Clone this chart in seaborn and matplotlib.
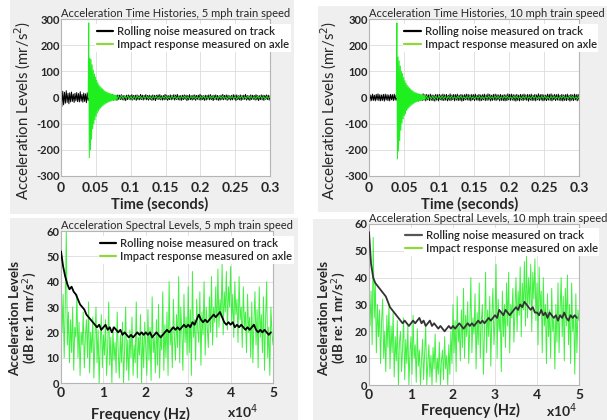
import numpy as np
import matplotlib
matplotlib.use("Agg")
import matplotlib.pyplot as plt
from matplotlib.patches import Rectangle
from matplotlib.lines import Line2D
import seaborn as sns

# ---------------- data ----------------
time_ticks = [0, 0.05, 0.1, 0.15, 0.2, 0.25, 0.3]
time_tick_labels = ["0", "0.05", "0.1", "0.15", "0.2", "0.25", "0.3"]
freq_ticks = [0, 10000, 20000, 30000, 40000, 50000]
freq_tick_labels = ["0", "1", "2", "3", "4", "5"]

# rolling noise measured on track, 5 mph (mr/s^2), sampled uniformly over 0..0.3 s
rolling_5 = [30,-34,24,-28,20,-22,26,-19,16,-24,18,-17,21,-15,13,-19,16,-13,19,-16,15,-17,22,-14,
 12,-18,17,-15,14,-20,18,-12,16,-15,13,-17,19,-14,12,-16,15,-13,14,-15,
 -10,8,-9,11,-7,9,-12,8,-8,10,-9,7,-11,9,-8,12,-10,7,-9,8,-11,10,-7,9,-8,11,-9,8,-10,7,
 -12,9,-8,10,-7,8,-9,11,-10,8,-7,9,-11,10,-8,7,-9,12,-8,9,-10,8,-7,11,-9,8,-10,9,-8,7,
 -11,10,-9,8,-12,9,-7,10,-8,11,-9,7,-10,8,-9,12,-8,9,-11,7,-8,10,-9,8,-7,11,-10,9,-8,12,
 -9,7,-10,8,-11,9,-8,10,-7,9,-12,8,-9,11,-8,7,-10,9,-8,10,-11,8,-7,9,-9,12,-10,8,-8,7,
 -11,9,-10,8,-7,10,-9,11,-8,7,-12,9,-8,10,-9,8,-11,7,-10,9,-8,12,-9,8,-7,10,-11,9,-8,7,
 -10,8,-9,11,-7,9,-12,10,-8,7,-9,10,-11,8,-8,9,-7,12,-10,8,-9,7,-11,10,-8,9,-7,8,-10,11,
 -9,8,-12,7,-8,10,-9,9,-11,8,-7,10,-8,9,-10,7]
# impact response measured on axle, 5 mph: impact window 0.039..0.08 s, tail 0.08..0.3 s
impact_5_burst = [0,285,-230,150,-200,145,-160,125,-120,105,-100,90,-85,78,-72,66,-60,56,-52,48,
 -45,42,-40,37,-35,33,-31,29,-27,25,-24,22,-21,20,-19,18,-17,16,-15,14,-14,13,-12,12,-11,10,-10,9,-9,8]
impact_5_tail = [-7,6,-6,7,-5,5,-4,6,-5,4,-6,5,-4,5,-3,4,-5,4,-3,5,-4,3,-5,4,-3,4,-4,3,-5,4,
 -3,5,-4,3,-4,5,-3,4,-5,3,-4,4,-3,5,-4,3,-5,4,-3,4,-4,3,-5,4,-3,5,-4,3,-4,5,-3,4,-5,3,-4,4,
 -3,5,-4,3,-5,4,-3,4,-4,3,-5,4,-3,5,-4,3,-4,5,-3,4,-5,3,-4,4,-3,5,-4,3,-5,4,-3,4]

rolling_10 = [12,-14,10,-12,13,-11,9,-13,12,-10,14,-12,11,-13,10,-11,12,-14,13,-10,11,-12,10,-13,
 12,-9,11,-12,13,-10,9,-11,12,-13,10,-12,11,-9,13,-12,10,-11,14,-10,12,-13,9,-11,12,-10,13,-12,
 11,-9,10,-13,12,-11,9,-12,14,-10,11,-13,12,-9,10,-12,13,-11,10,-12,9,-14,12,-10,11,-13,12,-9,
 10,-11,13,-12,11,-10,12,-13,9,-11,14,-12,10,-9,12,-13,11,-10,13,-12,9,-11,12,-14,10,-12,11,-9,
 13,-10,12,-11,10,-13,12,-9,11,-12,13,-10,9,-11,12,-13,10,-12,11,-9,13,-12,10,-11,14,-10,12,-13,
 9,-11,12,-10,13,-12,11,-9,10,-13,12,-11,9,-12,11,-13,10,-12,14,-9,12,-11,13,-10,11,-12,
 10,-14,12,-11,9,-13,12,-10,11,-12,13,-9,10,-11,12,-14,11,-10,13,-12,9,-11,12,-13,10,-9,
 14,-12,11,-10,12,-13,10,-11,9,-12,13,-10,12,-11,14,-13,10,-9,12,-12,11,-10,13,-11,9,-12,
 12,-13,10,-11,11,-12,13,-10,9,-14,12,-11,10,-12,13,-9,11,-13,12,-10]
impact_10_burst = [0,285,-235,155,-205,140,-165,120,-125,100,-98,92,-82,76,-70,64,-62,55,-50,47,
 -44,41,-39,36,-34,32,-30,28,-26,25,-23,21,-20,19,-18,17,-16,15,-15,14,-13,12,-12,11,-10,10,-9,9,-8,8]
impact_10_tail = [-7,6,-7,6,-5,5,-6,5,-5,6,-4,5,-4,5,-5,4,-4,5,-4,3,-5,4,-3,5,-4,3,-4,4,-3,5,
 -4,3,-5,4,-3,4,-4,3,-5,4,-3,5,-4,3,-4,5,-3,4,-5,3,-4,4,-3,5,-4,3,-5,4,-3,4,-4,3,-5,4,-3,5,
 -4,3,-4,5,-3,4,-5,3,-4,4,-3,5,-4,3,-5,4,-3,4,-4,3,-5,4,-3,5,-4,3,-4,5,-3,4,-5,3,-4,4]

# spectra (dB re 1 mr/s^2), rolling noise sampled every 500 Hz from 0 to 49500 Hz
spec_roll_5 = [52,46,42,39,37,38,36,35,33,31,30,29,27,26,25,24,23,22,23,21,22,
 23,21,22,20,22,21,20,21,19,20,19,18,19,18,19,20,19,20,19,
 20,19,20,18,19,20,19,18,19,20,21,20,21,22,21,22,21,22,23,22,
 23,22,24,23,25,27,25,24,25,24,25,26,27,26,27,28,26,24,23,24,
 23,24,22,23,22,23,22,21,22,21,22,23,21,20,21,20,21,20,19,20]
spec_roll_10 = [57,45,40,38,37,36,35,34,33,31,29,28,27,26,25,24,23,24,23,22,23,
 24,23,24,25,23,24,22,23,24,22,23,22,21,22,21,20,21,22,21,
 22,21,22,23,22,21,22,23,22,23,22,23,24,23,24,23,24,25,24,25,
 26,25,28,27,26,28,27,26,27,28,29,28,30,29,31,30,29,28,29,27,
 27,26,28,26,27,25,27,26,25,26,24,26,25,27,25,24,26,25,26,25]
# impact response spectra sampled every 250 Hz from 0 to 50000 Hz
spec_imp_5 = [45,20,35,10,30,60,15,28,8,25, 12,30,5,22,18,35,10,24,3,20,
 15,28,6,18,25,10,32,4,20,12, 26,2,17,30,8,21,0,15,27,6,
 19,11,25,3,14,32,7,18,0,22, 9,16,4,28,12,2,19,8,24,0,
 13,30,5,17,1,21,10,26,3,15, 8,32,2,18,11,27,0,20,6,24,
 14,3,29,9,22,1,34,12,18,4, 25,7,31,2,19,13,36,5,23,10,
 28,3,40,15,22,6,33,18,9,27, 14,42,8,30,20,5,35,16,26,11,
 38,12,29,3,44,18,25,9,33,21, 16,36,7,28,19,40,11,30,22,14,
 34,20,42,15,30,24,38,18,45,22, 33,26,47,19,36,28,44,21,38,30,
 46,24,35,18,40,27,33,16,42,25, 30,14,38,22,28,12,35,20,26,10,
 32,8,24,36,15,29,6,38,18,27, 12,34,5,25,40,10,22,3,30,20,15]
spec_imp_10 = [40,22,35,15,55,25,38,12,30,18, 28,8,24,32,10,20,5,26,14,30,
 6,22,12,27,3,18,9,24,0,16, 20,5,14,25,2,17,8,22,0,12,
 18,4,26,10,15,1,21,7,13,0, 9,17,2,12,22,0,8,15,3,11,
 0,14,6,19,1,10,4,16,0,9, 13,2,18,6,11,0,15,4,20,8,
 30,12,24,5,33,16,22,9,28,14, 36,10,26,18,31,8,22,40,12,25,
 19,34,6,27,15,38,10,24,30,4, 20,42,12,28,18,33,7,26,36,15,
 24,45,10,32,20,27,5,35,18,30, 14,38,22,42,12,30,25,36,16,28,
 40,20,35,26,44,18,38,28,46,22, 48,25,40,30,45,20,42,32,47,24,
 38,15,44,28,35,12,40,22,30,8, 34,18,28,10,36,20,25,6,30,16,
 38,12,28,40,18,33,9,36,22,41, 15,30,8,38,20,26,4,34,12,28,24]

legend_labels = ["Rolling noise measured on track", "Impact response measured on axle"]

# ---------------- style ----------------
sns.set_style("white")
plt.rcParams["font.family"] = ["Lato", "DejaVu Sans"]
W, H = 607, 420
fig = plt.figure(figsize=(W / 100, H / 100), dpi=100)
fig.patch.set_facecolor("white")

GRAY_BG = "#efefef"
GREEN = "#1fee1f"

def px_rect(x0, y0, x1, y1):
    fig.patches.append(Rectangle((x0 / W, 1 - y1 / H), (x1 - x0) / W, (y1 - y0) / H,
                                 transform=fig.transFigure, facecolor=GRAY_BG,
                                 edgecolor="none", zorder=-10))

px_rect(10, 0, 294, 214)
px_rect(318, 6, 607, 212)
px_rect(10, 218, 298, 420)
px_rect(313, 219, 607, 420)

def px_axes(x0, y0, x1, y1):
    return fig.add_axes([x0 / W, 1 - y1 / H, (x1 - x0) / W, (y1 - y0) / H])

def style_axes(ax):
    ax.set_facecolor("white")
    ax.grid(True, color="#dcdcdc", linewidth=0.6)
    for s in ax.spines.values():
        s.set_color("#b5b5b5")
        s.set_linewidth(0.8)
    ax.tick_params(length=0)
    ax.set_xlabel("")
    ax.set_ylabel("")

def add_legend(ax, black_color, anchor):
    handles = [Line2D([], [], color=black_color, lw=1.6),
               Line2D([], [], color="#8fd83a", lw=1.6)]
    leg = ax.legend(handles, legend_labels, loc="upper left", bbox_to_anchor=anchor,
                    frameon=True, fancybox=False, framealpha=1.0, edgecolor="none",
                    facecolor="white", handlelength=1.45, handletextpad=0.35,
                    borderpad=0.15, labelspacing=0.2, borderaxespad=0,
                    prop={"size": 8.1, "weight": "semibold"})
    leg.set_zorder(10)

def time_panel(box, rolling, burst, tail, title):
    ax = px_axes(*box)
    t_roll = np.linspace(0, 0.3, len(rolling))
    t_imp = np.concatenate([np.linspace(0.039, 0.08, len(burst), endpoint=False),
                            np.linspace(0.08, 0.3, len(tail))])
    sns.lineplot(x=t_roll, y=rolling, ax=ax, color="black", lw=0.7,
                 estimator=None, sort=False, zorder=2)
    sns.lineplot(x=t_imp, y=burst + tail, ax=ax, color=GREEN, lw=0.7,
                 estimator=None, sort=False, zorder=3)
    ax.set_xlim(0, 0.3)
    ax.set_ylim(-300, 300)
    ax.set_xticks(time_ticks)
    ax.set_xticklabels(time_tick_labels, fontsize=10, fontweight="bold")
    ax.set_yticks(range(-300, 301, 100))
    ax.set_yticklabels([str(v) for v in range(-300, 301, 100)], fontsize=8,
                       fontweight="bold")
    style_axes(ax)
    ax.tick_params(axis="x", pad=4)
    ax.tick_params(axis="y", pad=1)
    ax.text(0.0, 1.0, title, transform=ax.transAxes, ha="left", va="bottom",
            fontsize=8)
    return ax

def spec_panel(box, roll, imp, title, black_color):
    ax = px_axes(*box)
    f_roll = np.arange(len(roll)) * 500
    f_imp = np.arange(len(imp)) * 250
    sns.lineplot(x=f_imp, y=imp, ax=ax, color=GREEN, lw=0.7, alpha=0.85,
                 estimator=None, sort=False, zorder=2)
    sns.lineplot(x=f_roll, y=roll, ax=ax, color=black_color, lw=1.3,
                 estimator=None, sort=False, zorder=3)
    ax.set_xlim(0, 50000)
    ax.set_ylim(0, 60)
    ax.set_xticks(freq_ticks)
    ax.set_xticklabels(freq_tick_labels, fontsize=10, fontweight="bold")
    ax.set_yticks(range(0, 61, 10))
    ax.set_yticklabels([str(v) for v in range(0, 61, 10)], fontsize=8,
                       fontweight="bold")
    style_axes(ax)
    ax.tick_params(axis="x", pad=3)
    ax.tick_params(axis="y", pad=1)
    ax.text(0.0, 1.0, title, transform=ax.transAxes, ha="left", va="bottom",
            fontsize=8)
    return ax

ax1 = time_panel((61, 19, 270, 176), rolling_5, impact_5_burst, impact_5_tail,
                 "Acceleration Time Histories, 5 mph train speed")
add_legend(ax1, "black", (0.165, 0.965))
ax2 = time_panel((369, 19, 579, 176), rolling_10, impact_10_burst, impact_10_tail,
                 "Acceleration Time Histories, 10 mph train speed")
add_legend(ax2, "black", (0.16, 0.965))
ax3 = spec_panel((61, 231, 273, 383), spec_roll_5, spec_imp_5,
                 "Acceleration Spectral Levels, 5 mph train speed", "black")
add_legend(ax3, "black", (0.175, 0.965))
ax4 = spec_panel((369, 224, 579, 385), spec_roll_10, spec_imp_10,
                 "Acceleration Spectral Levels, 10 mph train speed", "#333333")
add_legend(ax4, "#555555", (0.165, 0.975))

# axis labels as figure text (pixel positions)
def ftext(x, y, s, **kw):
    fig.text(x / W, 1 - y / H, s, ha="center", va="center", **kw)

ftext(23, 110, "Acceleration Levels (mr/s$^2$)", rotation=90, fontsize=10.8)
ftext(329, 110, "Acceleration Levels (mr/s$^2$)", rotation=90, fontsize=10.8)
ftext(160, 204, "Time (seconds)", fontsize=10.5, fontweight="bold")
ftext(470, 204, "Time (seconds)", fontsize=10.5, fontweight="bold")
ftext(24, 318, "Acceleration Levels\n(dB re: 1 mr/s$^2$)", rotation=90,
      fontsize=9.5, fontweight="bold", linespacing=1.0)
ftext(333, 318, "Acceleration Levels\n(dB re: 1 mr/s$^2$)", rotation=90,
      fontsize=9.5, fontweight="bold", linespacing=1.0)
ftext(140, 414, "Frequency (Hz)", fontsize=10.5, fontweight="bold")
ftext(243, 412, "x10$^4$", fontsize=10, fontweight="bold")
ftext(470, 410, "Frequency (Hz)", fontsize=10.5, fontweight="bold")
ftext(562, 411, "x10$^4$", fontsize=10, fontweight="bold")

fig.savefig("out.png", dpi=100, facecolor=fig.get_facecolor())
